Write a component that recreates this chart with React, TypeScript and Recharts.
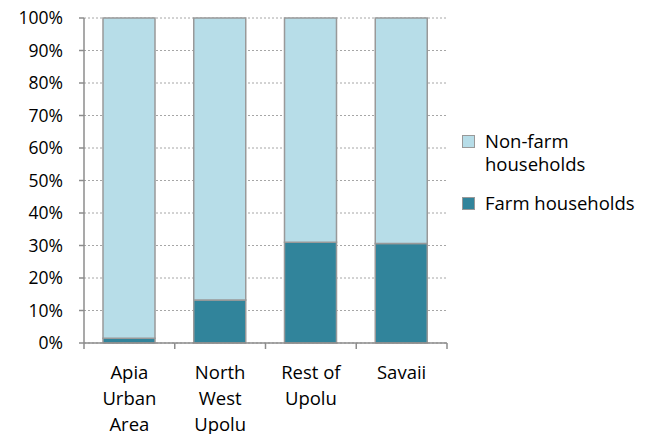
import React from 'react';
import { BarChart, Bar, XAxis, YAxis, CartesianGrid } from 'recharts';

const categories = ['Apia Urban Area', 'North West Upolu', 'Rest of Upolu', 'Savaii'];
const categoryLines = [['Apia', 'Urban', 'Area'], ['North', 'West', 'Upolu'], ['Rest of', 'Upolu'], ['Savaii']];
const farm = [1.5, 13.2, 31, 30.6];
const nonFarm = farm.map((v) => 100 - v);
const yTicks = [0, 10, 20, 30, 40, 50, 60, 70, 80, 90, 100];

const data = categories.map((c, i) => ({ name: c, farm: farm[i], nonFarm: nonFarm[i], idx: i }));

const FONT = '"Open Sans", sans-serif';
const AXIS = '#8c8c8c';
const FARM = '#31849b';
const NONFARM = '#b7dde8';

const XTick = (props: any) => {
  const { x, y, payload } = props;
  const lines = categoryLines[payload.index] || [String(payload.value)];
  const off = payload.offset || 0;
  return (
    <g>
      <line x1={x + off} x2={x + off} y1={y - 8} y2={y - 2} stroke={AXIS} strokeWidth={1.5} />
      {payload.index === 0 && (
        <line x1={x - off} x2={x - off} y1={y - 8} y2={y - 2} stroke={AXIS} strokeWidth={1.5} />
      )}
      {lines.map((l: string, i: number) => (
        <text key={i} x={x} y={y + 28 + i * 26} textAnchor="middle" fontFamily={FONT} fontSize={18.5} fill="#000">
          {l}
        </text>
      ))}
    </g>
  );
};

const LegendBox = () => (
  <div style={{ position: 'absolute', left: 462, top: 129, width: 183, fontFamily: FONT, fontSize: 18.5, color: '#000', lineHeight: '23px' }}>
    <div style={{ display: 'flex', alignItems: 'flex-start', marginBottom: 16 }}>
      <div style={{ width: 11, height: 11, background: NONFARM, border: '1px solid #999', marginTop: 6, marginRight: 10, flex: 'none' }} />
      <div>Non-farm<br />households</div>
    </div>
    <div style={{ display: 'flex', alignItems: 'flex-start' }}>
      <div style={{ width: 11, height: 11, background: FARM, border: '1px solid #999', marginTop: 6, marginRight: 10, flex: 'none' }} />
      <div style={{ whiteSpace: 'nowrap' }}>Farm households</div>
    </div>
  </div>
);

export default function App() {
  return (
    <div style={{ position: 'absolute', left: 0, top: 0, width: 645, height: 434, background: '#fff' }}>
      <BarChart width={645} height={434} data={data} margin={{ top: 18, right: 198, left: 0, bottom: 0 }}>
        <CartesianGrid vertical={false} stroke="#a6a6a6" strokeDasharray="2 2" />
        <XAxis
          dataKey="name"
          height={91}
          stroke={AXIS}
          strokeWidth={1.5}
          tickLine={false}
          interval={0}
          tick={<XTick />}
        />
        <YAxis
          width={84}
          domain={[0, 100]}
          ticks={yTicks}
          tickFormatter={(v: number) => `${v}%`}
          stroke={AXIS}
          strokeWidth={1.5}
          tickSize={5}
          tickMargin={16}
          tick={{ fontFamily: FONT, fontSize: 17.5, fill: '#000' }}
          interval={0}
        />
        <Bar dataKey="farm" stackId="a" fill={FARM} stroke="#999" strokeWidth={1.5} barSize={52} isAnimationActive={false} />
        <Bar dataKey="nonFarm" stackId="a" fill={NONFARM} stroke="#999" strokeWidth={1.5} barSize={52} isAnimationActive={false} />
      </BarChart>
      <LegendBox />
    </div>
  );
}
